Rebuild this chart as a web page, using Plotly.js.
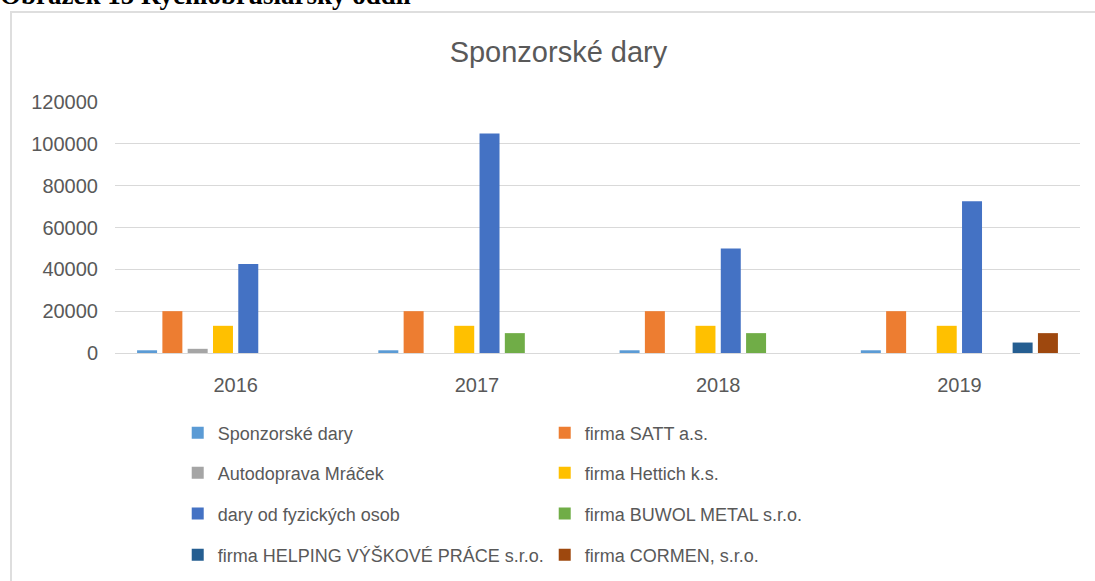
<!DOCTYPE html>
<html>
<head>
<meta charset="utf-8">
<script src="https://cdn.plot.ly/plotly-3.0.1.min.js"></script>
<style>
  html, body { margin:0; padding:0; background:#fff; overflow:hidden; }
  #frame { position:absolute; left:10px; top:11px; width:1100px; height:600px;
           border-left:2px solid #dedede; border-top:2px solid #dedede; box-sizing:border-box; }
  #caption { position:absolute; left:0; top:-18px; font:bold 27px 'Liberation Serif', serif;
             line-height:27px; white-space:nowrap; color:#000; }
  #chart { position:absolute; left:0; top:0; width:1095px; height:581px; }
</style>
</head>
<body>
<div id="caption">Obrázek 15 Rychlobruslařský oddíl</div>
<div id="frame"></div>
<div id="chart"></div>
<script>
const years = ['2016', '2017', '2018', '2019'];
const seriesNames = [
  'Sponzorské dary',
  'firma SATT a.s.',
  'Autodoprava Mráček',
  'firma Hettich k.s.',
  'dary od fyzických osob',
  'firma BUWOL METAL s.r.o.',
  'firma HELPING VÝŠKOVÉ PRÁCE s.r.o.',
  'firma CORMEN, s.r.o.'
];
const sponzorskeDary   = [1300, 1300, 1300, 1300];
const firmaSATT        = [20000, 20000, 20000, 20000];
const autodopravaMracek = [2000, null, null, null];
const firmaHettich     = [13000, 13000, 13000, 13000];
const daryFyzOsob      = [42500, 105000, 50000, 72500];
const firmaBuwol       = [null, 9500, 9500, null];
const firmaHelping     = [null, null, null, 5000];
const firmaCormen      = [null, null, null, 9500];
const seriesValues = [sponzorskeDary, firmaSATT, autodopravaMracek, firmaHettich,
                      daryFyzOsob, firmaBuwol, firmaHelping, firmaCormen];
const colors = ['#5B9BD5', '#ED7D31', '#A5A5A5', '#FFC000', '#4472C4', '#70AD47', '#255E91', '#9E480E'];
const yTicks = [0, 20000, 40000, 60000, 80000, 100000, 120000];

const legendIds = ['legend', 'legend2', 'legend3', 'legend4'];
const traces = seriesNames.map((name, i) => ({
  type: 'bar',
  name: name,
  x: years,
  y: seriesValues[i],
  marker: { color: colors[i] },
  legend: legendIds[Math.floor(i / 2)],
  hoverinfo: 'x+y+name'
}));

const legendRowsY = [-0.319, -0.478, -0.641, -0.805];
const legendBase = {
  orientation: 'h', x: 0.065, xanchor: 'left', yanchor: 'middle',
  font: { family: 'Liberation Sans, Arial, sans-serif', size: 18, color: '#595959' },
  entrywidth: 322, entrywidthmode: 'pixels', bgcolor: 'rgba(0,0,0,0)', traceorder: 'normal'
};

const layout = {
  width: 1095, height: 581,
  paper_bgcolor: 'rgba(0,0,0,0)', plot_bgcolor: 'rgba(0,0,0,0)',
  margin: { l: 115, r: 15, t: 102, b: 228, autoexpand: false },
  title: {
    text: 'Sponzorské dary', x: 0.51, xref: 'container', xanchor: 'center',
    y: 1 - 52 / 581, yref: 'container', yanchor: 'middle',
    font: { family: 'Liberation Sans, Arial, sans-serif', size: 29, color: '#595959' }
  },
  barmode: 'group', bargap: 0.161, bargroupgap: 0.21,
  xaxis: {
    type: 'category', showgrid: false, showline: true, linecolor: '#d9d9d9', linewidth: 1,
    ticks: '', ticklabelstandoff: 14, automargin: false,
    tickfont: { family: 'Liberation Sans, Arial, sans-serif', size: 20, color: '#595959' }
  },
  yaxis: {
    range: [0, 120000], tickvals: yTicks, ticktext: yTicks.map(String),
    showgrid: true, gridcolor: '#d9d9d9', gridwidth: 1, zeroline: true, zerolinecolor: '#d9d9d9',
    showline: false, ticks: '', ticklabelstandoff: 16, automargin: false,
    tickfont: { family: 'Liberation Sans, Arial, sans-serif', size: 20, color: '#595959' }
  },
  legend: Object.assign({}, legendBase, { y: legendRowsY[0] }),
  legend2: Object.assign({}, legendBase, { y: legendRowsY[1] }),
  legend3: Object.assign({}, legendBase, { y: legendRowsY[2] }),
  legend4: Object.assign({}, legendBase, { y: legendRowsY[3] }),
  showlegend: true
};

Plotly.newPlot('chart', traces, layout, { displayModeBar: false, staticPlot: true });
</script>
</body>
</html>
